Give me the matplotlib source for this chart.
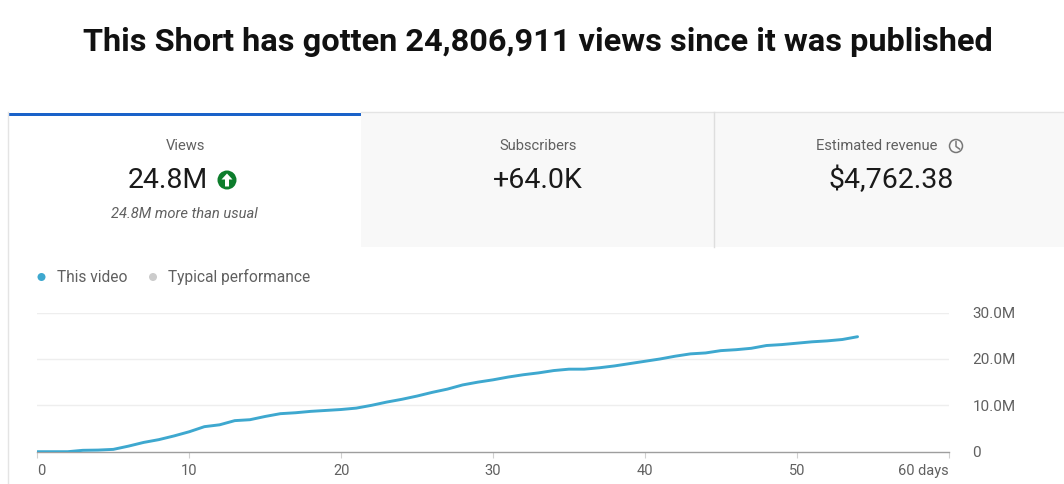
import numpy as np
import matplotlib.pyplot as plt
from matplotlib.patches import Circle, Rectangle, Polygon

plt.rcParams['font.family'] = ['Roboto', 'DejaVu Sans']

# Chart data
days = list(range(0, 55))
views_m = [0, 0, 0, 0.3, 0.35, 0.5, 1.2, 2.0, 2.6, 3.4, 4.3, 5.4, 5.8, 6.7, 6.9,
           7.6, 8.2, 8.4, 8.7, 8.9, 9.1, 9.4, 10.0, 10.7, 11.3, 12.0, 12.8, 13.5,
           14.4, 15.0, 15.5, 16.1, 16.6, 17.0, 17.5, 17.8, 17.8, 18.1, 18.5, 19.0,
           19.5, 20.0, 20.6, 21.1, 21.3, 21.8, 22.0, 22.3, 22.9, 23.1, 23.4, 23.7,
           23.9, 24.2, 24.8]
x_ticks = [0, 10, 20, 30, 40, 50, 60]
x_tick_labels = ["0", "10", "20", "30", "40", "50", "60 days"]
y_ticks = [0, 10e6, 20e6, 30e6]
y_tick_labels = ["0", "10.0M", "20.0M", "30.0M"]

# Cards
card_titles = ["Views", "Subscribers", "Estimated revenue"]
card_values = ["24.8M", "+64.0K", "$4,762.38"]
views_note = "24.8M more than usual"
legend_labels = ["This video", "Typical performance"]
title = "This Short has gotten 24,806,911 views since it was published"

W, H = 1064, 484
fig = plt.figure(figsize=(W / 100, H / 100), dpi=100)
fig.patch.set_facecolor('white')

# background axes in pixel coordinates
bg = fig.add_axes([0, 0, 1, 1])
bg.set_xlim(0, W)
bg.set_ylim(H, 0)
bg.axis('off')

blue = '#3ea8cf'
grey_txt = '#606060'

bg.text(538, 42, title, ha='center', va='center', fontsize=23.4,
        fontweight='bold', color='#111111')

# cards
bg.add_patch(Rectangle((361, 112), W - 361, 135, facecolor='#f8f8f8',
                       edgecolor='none'))
bg.plot([361, W], [112, 112], color='#e4e4e4', lw=1)
bg.plot([714, 714], [112, 247], color='#dedede', lw=1)
bg.plot([7.5, 7.5], [112, H], color='#e4e4e4', lw=1)
bg.add_patch(Rectangle((8, 112.5), 353, 3.5, facecolor='#1a62c9',
                       edgecolor='none'))

card_x = [185, 538, 877]
value_x = [168, 538, 891]
for cx, vx, t, v in zip(card_x, value_x, card_titles, card_values):
    bg.text(cx, 146, t, ha='center', va='center', fontsize=10.6, color=grey_txt)
    bg.text(vx, 180, v, ha='center', va='center', fontsize=20.5,
            color='#1a1a1a')
bg.text(184, 214, views_note, ha='center', va='center', fontsize=10.6,
        style='italic', color=grey_txt)

# green up arrow icon
bg.add_patch(Circle((227, 180), 9.5, facecolor='#0d7d2c', edgecolor='none'))
bg.add_patch(Polygon([[227, 173.5], [232.5, 179.5], [229, 179.5], [229, 186.5],
                      [225, 186.5], [225, 179.5], [221.5, 179.5]],
                     closed=True, facecolor='white', edgecolor='none'))

# clock icon
bg.add_patch(Circle((956, 146), 6.5, facecolor='none', edgecolor='#777777',
                    lw=1.1))
bg.plot([956, 956, 959.5], [141.5, 146.5, 149], color='#777777', lw=1.1)

# legend
bg.add_patch(Circle((41.5, 277), 4, facecolor=blue, edgecolor='none'))
bg.text(57, 277, legend_labels[0], ha='left', va='center', fontsize=11.2,
        color=grey_txt)
bg.add_patch(Circle((153, 277), 4, facecolor='#cccccc', edgecolor='none'))
bg.text(168, 277, legend_labels[1], ha='left', va='center', fontsize=11.2,
        color=grey_txt)

# chart axes
x0, x1 = 37.3, 948.7
y0, y1 = 451.7, 312.6
ax = fig.add_axes([x0 / W, 1 - y0 / H, (x1 - x0) / W, (y0 - y1) / H])
ax.patch.set_alpha(0)
ax.plot(days, np.array(views_m) * 1e6, color=blue, lw=2.1,
        solid_capstyle='round', solid_joinstyle='round', zorder=3)
ax.set_xlim(0, 60)
ax.set_ylim(0, 30e6)
for s in ['top', 'left', 'right']:
    ax.spines[s].set_visible(False)
ax.spines['bottom'].set_color('#9e9e9e')
ax.spines['bottom'].set_linewidth(1)
for yv in y_ticks[1:]:
    ax.axhline(yv, color='#eeeeee', lw=1, zorder=1)

ax.set_xticks(x_ticks)
ax.set_xticklabels(x_tick_labels)
ax.tick_params(axis='x', length=4, color='#d0d0d0', labelsize=10.5,
               labelcolor=grey_txt, pad=5)
labels = ax.get_xticklabels()
labels[0].set_ha('left')
labels[-1].set_ha('right')

ax.yaxis.tick_right()
ax.set_yticks(y_ticks)
ax.set_yticklabels(y_tick_labels)
ax.tick_params(axis='y', length=0, labelsize=11, labelcolor=grey_txt, pad=17)

fig.savefig('out.png', dpi=100)
